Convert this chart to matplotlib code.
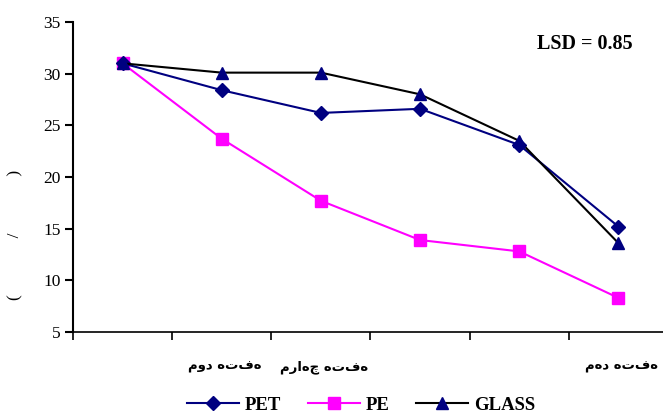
import matplotlib
matplotlib.use("Agg")
import matplotlib.pyplot as plt
from matplotlib.lines import Line2D

categories = ["", "هفته دوم", "هفته چهارم", "", "", "هفته دهم"]
pet = [31.0, 28.4, 26.2, 26.6, 23.1, 15.2]
pe = [31.0, 23.7, 17.7, 13.9, 12.8, 8.3]
glass = [31.0, 30.1, 30.1, 28.0, 23.5, 13.6]
y_ticks = [5, 10, 15, 20, 25, 30, 35]

fig = plt.figure(figsize=(6.63, 4.15), dpi=100)
W, H = 663, 415
x_left, x_right = 73, 668
y_top, y_bot = 22, 332
ax = fig.add_axes([x_left / W, 1 - y_bot / H, (x_right - x_left) / W, (y_bot - y_top) / H])

x = list(range(len(categories)))
ax.plot(x, pet, color="#000080", lw=1.5, marker="D", ms=7, mfc="#000080", mec="#000080", label="PET", zorder=3)
ax.plot(x, pe, color="#FF00FF", lw=1.5, marker="s", ms=8, mfc="#FF00FF", mec="#FF00FF", label="PE", zorder=2)
ax.plot(x, glass, color="black", lw=1.5, marker="^", ms=9, mfc="#000080", mec="#000080", label="GLASS", zorder=4)

ax.set_xlim(-0.5, len(categories) - 0.5)
ax.set_ylim(5, 35)
ax.set_yticks(y_ticks)
ax.set_yticklabels([str(v) for v in y_ticks], fontfamily="Liberation Serif", fontsize=12.5)
ax.set_xticks([i + 0.5 for i in range(-1, len(categories))])
ax.set_xticklabels([])
ax.tick_params(axis="y", direction="out", length=6, width=1.5, pad=3)
ax.tick_params(axis="x", direction="out", length=6, width=1.2)
for i, lab in enumerate(categories):
    if lab:
        ax.text(i + 0.03, -0.112, lab[::-1], transform=ax.get_xaxis_transform(), ha="center", va="center",
                fontsize=9.5, fontweight="bold", family=["DejaVu Sans"])
for s in ["top", "right"]:
    ax.spines[s].set_visible(False)
ax.spines["left"].set_linewidth(1.5)
ax.spines["bottom"].set_linewidth(1.2)

fig.text(15 / W, 1 - 235 / H, "(             /             )", rotation=90, ha="center", va="center",
         fontsize=12.5, family="Liberation Serif")
fig.text(585 / W, 1 - 44 / H, "LSD = 0.85", ha="center", va="center", fontsize=14.5,
         fontweight="bold", family="Liberation Serif")

handles = [
    Line2D([], [], color="#000080", lw=1.5, marker="D", ms=7, mfc="#000080", mec="#000080"),
    Line2D([], [], color="#FF00FF", lw=1.5, marker="s", ms=8, mfc="#FF00FF", mec="#FF00FF"),
    Line2D([], [], color="black", lw=1.5, marker="^", ms=9, mfc="#000080", mec="#000080"),
]
fig.legend(handles, ["PET", "PE", "GLASS"], loc="center", bbox_to_anchor=(361 / W, 1 - 405 / H),
           ncol=3, frameon=False, handlelength=2.8, columnspacing=1.4, handletextpad=0.3,
           prop={"family": "Liberation Serif", "weight": "bold", "size": 13.5})

fig.savefig("out.png", dpi=100)
